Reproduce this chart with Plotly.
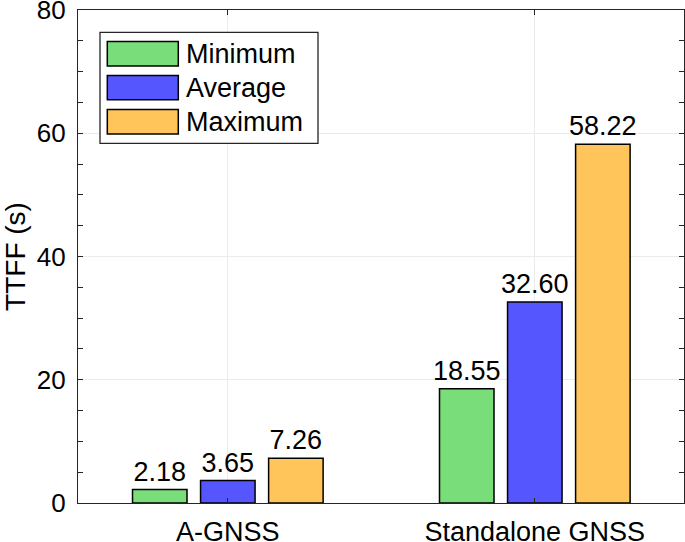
import plotly.graph_objects as go

categories = ["A-GNSS", "Standalone GNSS"]
series_names = ["Minimum", "Average", "Maximum"]
minimum = [2.18, 18.55]
average = [3.65, 32.60]
maximum = [7.26, 58.22]
y_ticks = [0, 20, 40, 60, 80]

colors = ["#79DD79", "#5656FF", "#FFC45A"]
FONT = "Liberation Sans, Arial, sans-serif"
AX = "#262626"

fig = go.Figure()
for name, vals, col in zip(series_names, [minimum, average, maximum], colors):
    fig.add_trace(go.Bar(
        x=categories, y=vals, name=name,
        marker=dict(color=col, line=dict(color="black", width=1.5)),
        text=[f"{v:.2f}" for v in vals], textposition="outside",
        constraintext="none", cliponaxis=False,
        textfont=dict(family=FONT, size=27, color="black"),
        showlegend=False,
    ))

W, H = 685, 542
L, R, T, B = 78, 1, 10, 39

fig.update_layout(
    width=W, height=H,
    margin=dict(l=L, r=R, t=T, b=B, autoexpand=False),
    paper_bgcolor="white", plot_bgcolor="white",
    barmode="group", bargap=0.335, bargroupgap=0.199,
    font=dict(family=FONT, size=26, color="black"),
    xaxis=dict(
        type="category", range=[-0.488, 1.486], automargin=False,
        showgrid=True, gridcolor="#EBEBEB", gridwidth=1,
        showline=True, linecolor=AX, linewidth=1.3, mirror="allticks",
        ticks="inside", ticklen=5, tickcolor=AX, tickwidth=1,
        tickfont=dict(size=27, color="black"), ticklabelstandoff=4,
    ),
    yaxis=dict(
        range=[0, 80], tickvals=y_ticks, automargin=False,
        showgrid=True, gridcolor="#EBEBEB", gridwidth=1,
        showline=True, linecolor=AX, linewidth=1.3, mirror="allticks",
        ticks="inside", ticklen=5, tickcolor=AX, tickwidth=1,
        minor=dict(dtick=5, ticks="inside", ticklen=5, tickcolor=AX, tickwidth=1, showgrid=False),
        zeroline=False, ticklabeloverflow="allow", ticklabelstandoff=6,
        tickfont=dict(size=26, color="black"),
        title=dict(text="TTFF (s)", font=dict(size=28, color="black"), standoff=6),
    ),
)

# manual legend (MATLAB style large swatches)
pw, ph = W - L - R, H - T - B
def px(x): return (x - L) / pw
def py(y): return (H - B - y) / ph

fig.add_shape(type="rect", xref="paper", yref="paper",
              x0=px(100), x1=px(318), y0=py(143.3), y1=py(32.3),
              line=dict(color=AX, width=1.3), fillcolor="white", layer="above")
row_centers = [53.7, 87.6, 121.7]
for name, col, yc in zip(series_names, colors, row_centers):
    fig.add_shape(type="rect", xref="paper", yref="paper",
                  x0=px(107.3), x1=px(178.3), y0=py(yc + 12.2), y1=py(yc - 12.2),
                  line=dict(color="black", width=1.5), fillcolor=col, layer="above")
    fig.add_annotation(xref="paper", yref="paper", x=px(184), y=py(yc),
                       text=name, showarrow=False, xanchor="left", yanchor="middle",
                       font=dict(family=FONT, size=27, color="black"))

fig.write_html("out.html", config={"displayModeBar": False},
               post_script="document.body.style.margin='0';document.body.style.overflow='hidden';")
